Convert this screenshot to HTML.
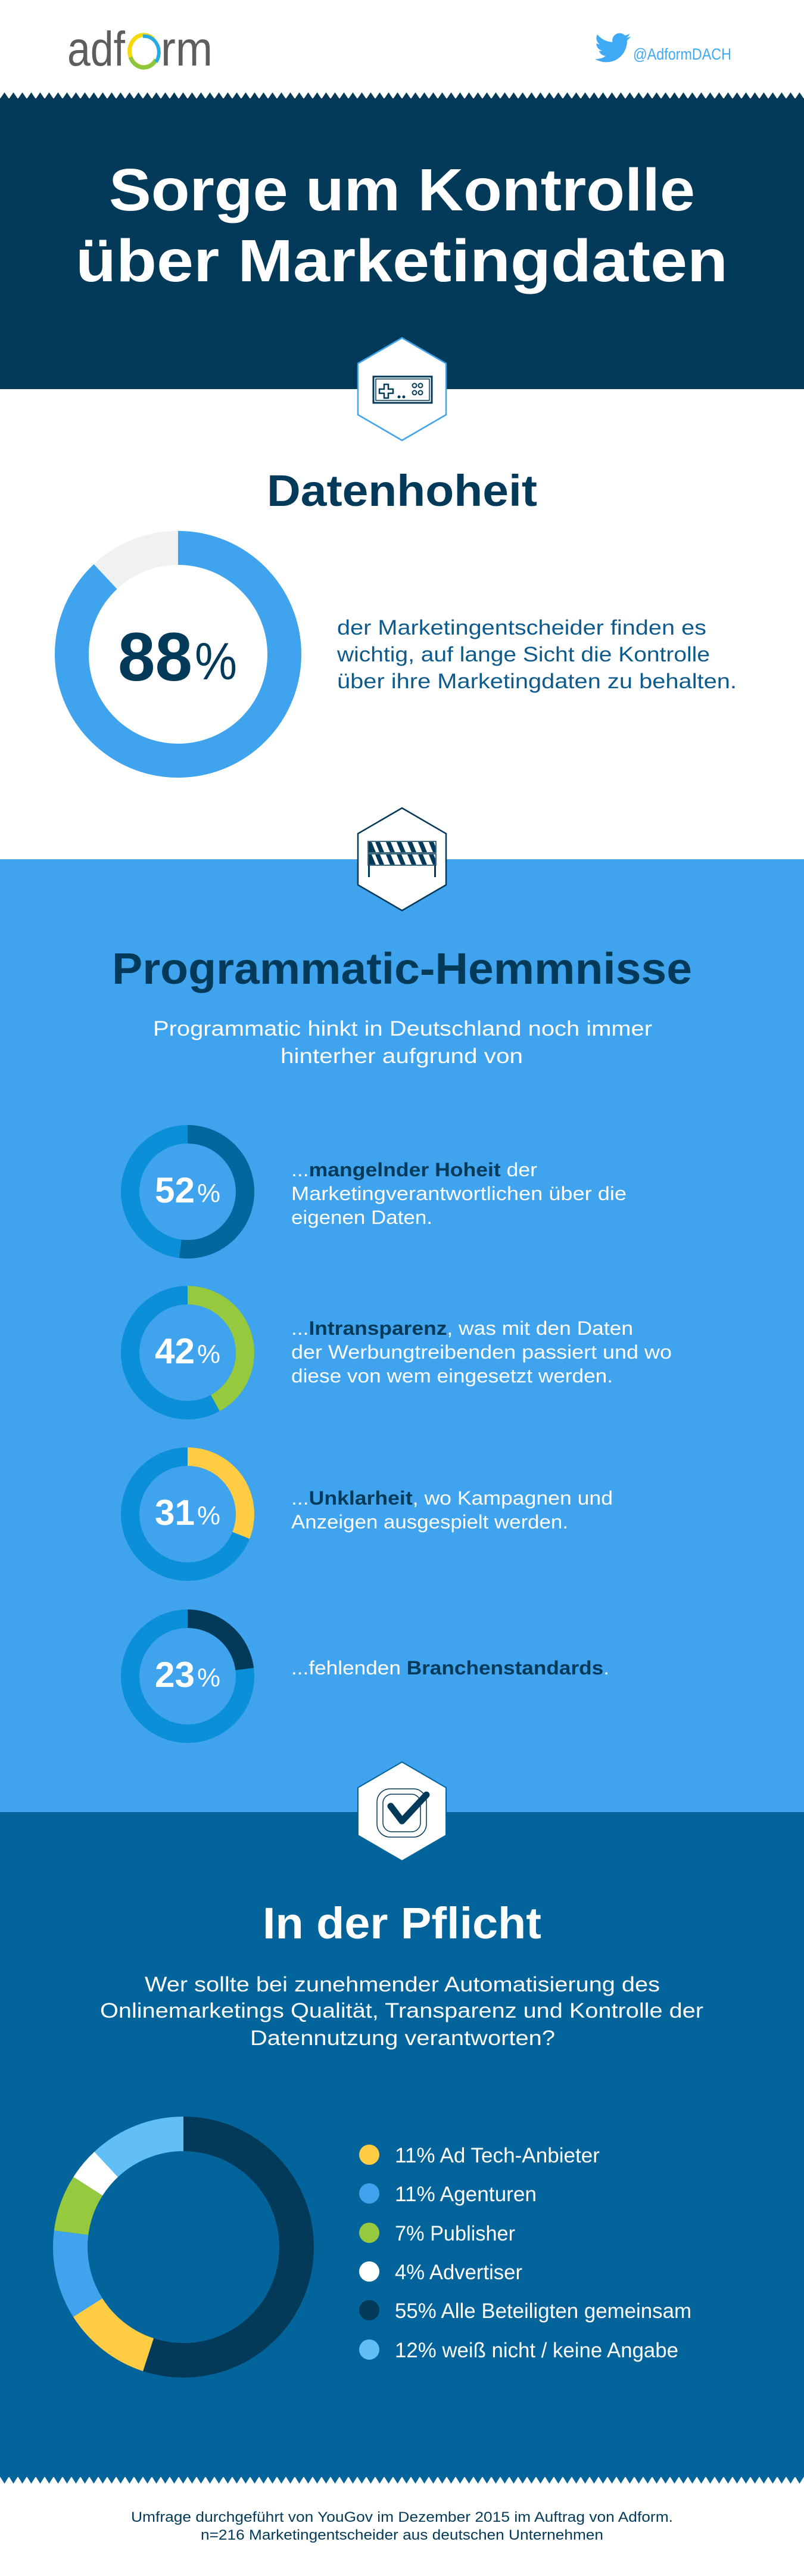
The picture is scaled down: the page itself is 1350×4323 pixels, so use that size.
<!DOCTYPE html>
<html><head><meta charset="utf-8"><style>html,body{margin:0;padding:0;background:#fff}svg{display:block}</style></head>
<body>
<svg width="1350" height="4323" viewBox="0 0 1350 4323" xmlns="http://www.w3.org/2000/svg" font-family="'Liberation Sans', sans-serif">
<defs>
<pattern id="zt" x="0" y="155" width="15" height="11" patternUnits="userSpaceOnUse"><polygon points="0,11 7.5,0 15,11" fill="#033a59"/></pattern>
<pattern id="zb" x="0" y="4156" width="15" height="12" patternUnits="userSpaceOnUse"><polygon points="0,0 7.5,12 15,0" fill="#02649a"/></pattern>
</defs>
<rect width="1350" height="4323" fill="#fff"/>
<!-- logo -->
<text x="113" y="110" font-size="82" fill="#5d5d5d" textLength="97" lengthAdjust="spacingAndGlyphs">adf</text>
<text x="270" y="110" font-size="82" fill="#5d5d5d" textLength="87" lengthAdjust="spacingAndGlyphs">rm</text>
<path d="M258,66 A24,27 0 1 0 262,100" fill="none" stroke="#f5d90a" stroke-width="7"/>
<path d="M219,96 A24,27 0 0 0 262,100" fill="none" stroke="#8cc63f" stroke-width="7"/>
<path d="M240,61 A24,27 0 0 1 262,104" fill="none" stroke="#29abe2" stroke-width="6"/>
<!-- twitter -->
<path transform="translate(999,50) scale(2.5)" fill="#3fa9f5" d="M23.953 4.57a10 10 0 01-2.825.775 4.958 4.958 0 002.163-2.723c-.951.555-2.005.959-3.127 1.184a4.92 4.92 0 00-8.384 4.482C7.69 8.095 4.067 6.13 1.64 3.162a4.822 4.822 0 00-.666 2.475c0 1.71.87 3.213 2.188 4.096a4.904 4.904 0 01-2.228-.616v.06a4.923 4.923 0 003.946 4.827 4.996 4.996 0 01-2.212.085 4.936 4.936 0 004.604 3.417 9.867 9.867 0 01-6.102 2.105c-.39 0-.779-.023-1.17-.067a13.995 13.995 0 007.557 2.209c9.053 0 13.998-7.496 13.998-13.985 0-.21 0-.42-.015-.63A9.935 9.935 0 0024 4.59z"/>
<text x="1063" y="100" font-size="27" fill="#3fa9f5" textLength="165" lengthAdjust="spacingAndGlyphs">@AdformDACH</text>
<!-- dark header -->
<rect x="0" y="155" width="1350" height="11" fill="url(#zt)"/>
<rect x="0" y="165" width="1350" height="488" fill="#033a59"/>
<text x="183" y="353" font-size="100" font-weight="bold" fill="#fff" textLength="984" lengthAdjust="spacingAndGlyphs">Sorge um Kontrolle</text>
<text x="127" y="472" font-size="100" font-weight="bold" fill="#fff" textLength="1095" lengthAdjust="spacingAndGlyphs">über Marketingdaten</text>
<!-- hex1 -->
<polygon points="675,567 749,610 749,696 675,739 601,696 601,610" fill="#fff" stroke="#3fa3ee" stroke-width="2.5"/>
<rect x="627" y="632" width="98" height="44" fill="none" stroke="#033a59" stroke-width="3"/>
<rect x="631" y="636" width="90" height="36" fill="none" stroke="#033a59" stroke-width="1.5"/>
<path d="M645,645 h7 v8 h8 v7 h-8 v8 h-7 v-8 h-8 v-7 h8z" fill="none" stroke="#033a59" stroke-width="2.5"/>
<circle cx="670" cy="666" r="2.5" fill="#033a59"/><circle cx="678" cy="666" r="2.5" fill="#033a59"/>
<g fill="none" stroke="#033a59" stroke-width="2"><circle cx="696" cy="647" r="3.5"/><circle cx="706" cy="647" r="3.5"/><circle cx="696" cy="659" r="3.5"/><circle cx="706" cy="659" r="3.5"/></g>
<!-- Datenhoheit -->
<text x="448" y="849" font-size="74" font-weight="bold" fill="#033a59" textLength="454" lengthAdjust="spacingAndGlyphs">Datenhoheit</text>
<circle cx="299" cy="1098" r="178.5" fill="none" stroke="#f0f1f1" stroke-width="57"/>
<circle cx="299" cy="1098" r="178.5" fill="none" stroke="#3fa3ee" stroke-width="57" stroke-dasharray="986.9 2000" transform="rotate(-90 299 1098)"/>
<text x="198" y="1142" font-size="115" font-weight="bold" fill="#033a59" textLength="125" lengthAdjust="spacingAndGlyphs">88</text>
<text x="327" y="1140" font-size="88" fill="#033a59" textLength="71" lengthAdjust="spacingAndGlyphs">%</text>
<g font-size="35" fill="#0d5a8c">
<text x="566" y="1065" textLength="620" lengthAdjust="spacingAndGlyphs">der Marketingentscheider finden es</text>
<text x="566" y="1110" textLength="626" lengthAdjust="spacingAndGlyphs">wichtig, auf lange Sicht die Kontrolle</text>
<text x="566" y="1155" textLength="671" lengthAdjust="spacingAndGlyphs">über ihre Marketingdaten zu behalten.</text>
</g>
<!-- light blue section -->
<rect x="0" y="1442" width="1350" height="1599" fill="#3fa3ee"/>
<polygon points="675,1356 749,1399 749,1485 675,1528 601,1485 601,1399" fill="#fff" stroke="#033a59" stroke-width="2.5"/>
<g>
<rect x="618" y="1412" width="114" height="19" fill="#fff" stroke="#033a59" stroke-width="1.5"/>
<rect x="618" y="1433" width="114" height="19" fill="#fff" stroke="#033a59" stroke-width="1.5"/>
<g fill="#033a59">
<polygon points="619,1413 624,1413 631,1430 619,1430"/><polygon points="630,1413 638,1413 645,1430 637,1430"/><polygon points="648,1413 656,1413 663,1430 655,1430"/><polygon points="666,1413 674,1413 681,1430 673,1430"/><polygon points="684,1413 692,1413 699,1430 691,1430"/><polygon points="702,1413 710,1413 717,1430 709,1430"/><polygon points="720,1413 728,1413 731,1420 731,1430 727,1430"/>
<polygon points="619,1434 624,1434 631,1451 619,1451"/><polygon points="630,1434 638,1434 645,1451 637,1451"/><polygon points="648,1434 656,1434 663,1451 655,1451"/><polygon points="666,1434 674,1434 681,1451 673,1451"/><polygon points="684,1434 692,1434 699,1451 691,1451"/><polygon points="702,1434 710,1434 717,1451 709,1451"/><polygon points="720,1434 728,1434 731,1441 731,1451 727,1451"/>
<rect x="618" y="1452" width="3" height="20"/><rect x="729" y="1452" width="3" height="20"/>
</g></g>
<text x="188" y="1651" font-size="74" font-weight="bold" fill="#033a59" textLength="974" lengthAdjust="spacingAndGlyphs">Programmatic-Hemmnisse</text>
<g font-size="35" fill="#fff">
<text x="257" y="1738" textLength="838" lengthAdjust="spacingAndGlyphs">Programmatic hinkt in Deutschland noch immer</text>
<text x="471" y="1784" textLength="407" lengthAdjust="spacingAndGlyphs">hinterher aufgrund von</text>
</g>
<!-- small donuts: r=96.5, C=606.3 -->
<g fill="none" stroke-width="31">
<circle cx="315" cy="2000" r="96.5" stroke="#0a8fd8"/>
<circle cx="315" cy="2000" r="96.5" stroke="#02679c" stroke-dasharray="315.3 1000" transform="rotate(-90 315 2000)"/>
<circle cx="315" cy="2270" r="96.5" stroke="#0a8fd8"/>
<circle cx="315" cy="2270" r="96.5" stroke="#96c93d" stroke-dasharray="254.6 1000" transform="rotate(-90 315 2270)"/>
<circle cx="315" cy="2541" r="96.5" stroke="#0a8fd8"/>
<circle cx="315" cy="2541" r="96.5" stroke="#ffcc44" stroke-dasharray="188 1000" transform="rotate(-90 315 2541)"/>
<circle cx="315" cy="2813" r="96.5" stroke="#0a8fd8"/>
<circle cx="315" cy="2813" r="96.5" stroke="#033a59" stroke-dasharray="139.4 1000" transform="rotate(-90 315 2813)"/>
</g>
<g fill="#fff">
<text x="260" y="2018" font-size="60" font-weight="bold" textLength="67" lengthAdjust="spacingAndGlyphs">52</text><text x="331" y="2017" font-size="44" textLength="39" lengthAdjust="spacingAndGlyphs">%</text>
<text x="260" y="2288" font-size="60" font-weight="bold" textLength="67" lengthAdjust="spacingAndGlyphs">42</text><text x="331" y="2287" font-size="44" textLength="39" lengthAdjust="spacingAndGlyphs">%</text>
<text x="260" y="2559" font-size="60" font-weight="bold" textLength="67" lengthAdjust="spacingAndGlyphs">31</text><text x="331" y="2558" font-size="44" textLength="39" lengthAdjust="spacingAndGlyphs">%</text>
<text x="260" y="2831" font-size="60" font-weight="bold" textLength="67" lengthAdjust="spacingAndGlyphs">23</text><text x="331" y="2830" font-size="44" textLength="39" lengthAdjust="spacingAndGlyphs">%</text>
</g>
<g font-size="32" fill="#fff">
<text x="489" y="1974" textLength="413" lengthAdjust="spacingAndGlyphs">...<tspan font-weight="bold" fill="#033a59">mangelnder Hoheit</tspan> der</text>
<text x="489" y="2014" textLength="563" lengthAdjust="spacingAndGlyphs">Marketingverantwortlichen über die</text>
<text x="489" y="2054" textLength="237" lengthAdjust="spacingAndGlyphs">eigenen Daten.</text>
<text x="489" y="2240" textLength="574" lengthAdjust="spacingAndGlyphs">...<tspan font-weight="bold" fill="#033a59">Intransparenz</tspan>, was mit den Daten</text>
<text x="489" y="2280" textLength="639" lengthAdjust="spacingAndGlyphs">der Werbungtreibenden passiert und wo</text>
<text x="489" y="2320" textLength="540" lengthAdjust="spacingAndGlyphs">diese von wem eingesetzt werden.</text>
<text x="489" y="2525" textLength="540" lengthAdjust="spacingAndGlyphs">...<tspan font-weight="bold" fill="#033a59">Unklarheit</tspan>, wo Kampagnen und</text>
<text x="489" y="2565" textLength="465" lengthAdjust="spacingAndGlyphs">Anzeigen ausgespielt werden.</text>
<text x="489" y="2810" textLength="534" lengthAdjust="spacingAndGlyphs">...fehlenden <tspan font-weight="bold" fill="#033a59">Branchenstandards</tspan>.</text>
</g>
<!-- Pflicht section -->
<rect x="0" y="3041" width="1350" height="1116" fill="#02649a"/>
<rect x="0" y="4156" width="1350" height="12" fill="url(#zb)"/>
<polygon points="675,2957 749,3000 749,3080 675,3123 601,3080 601,3000" fill="#fff" stroke="#02649a" stroke-width="2"/>
<rect x="633" y="3002" width="83" height="81" rx="22" fill="none" stroke="#033a59" stroke-width="1.5"/>
<rect x="643" y="3011" width="63" height="63" rx="15" fill="none" stroke="#033a59" stroke-width="1.5"/>
<polyline points="656,3031 675,3056 716,3012" fill="none" stroke="#033a59" stroke-width="11" stroke-linecap="round" stroke-linejoin="round"/>
<text x="441" y="3253" font-size="74" font-weight="bold" fill="#fff" textLength="468" lengthAdjust="spacingAndGlyphs">In der Pflicht</text>
<g font-size="35" fill="#fff">
<text x="243" y="3342" textLength="865" lengthAdjust="spacingAndGlyphs">Wer sollte bei zunehmender Automatisierung des</text>
<text x="168" y="3386" textLength="1013" lengthAdjust="spacingAndGlyphs">Onlinemarketings Qualität, Transparenz und Kontrolle der</text>
<text x="420" y="3432" textLength="512" lengthAdjust="spacingAndGlyphs">Datennutzung verantworten?</text>
</g>
<!-- big donut r=190, C=1193.8 -->
<g fill="none" stroke-width="58" transform="rotate(-90 308 3771)">
<circle cx="308" cy="3771" r="190" stroke="#033a59" stroke-dasharray="656.6 2000"/>
<circle cx="308" cy="3771" r="190" stroke="#ffcc44" stroke-dasharray="0 656.6 131.3 2000"/>
<circle cx="308" cy="3771" r="190" stroke="#3fa3ee" stroke-dasharray="0 787.9 131.3 2000"/>
<circle cx="308" cy="3771" r="190" stroke="#96c93d" stroke-dasharray="0 919.2 83.6 2000"/>
<circle cx="308" cy="3771" r="190" stroke="#ffffff" stroke-dasharray="0 1002.8 47.8 2000"/>
<circle cx="308" cy="3771" r="190" stroke="#62bff5" stroke-dasharray="0 1050.6 143.2 2000"/>
</g>
<circle cx="620" cy="3616" r="17" fill="#ffcc44"/>
<circle cx="620" cy="3681" r="17" fill="#3fa3ee"/>
<circle cx="620" cy="3747" r="17" fill="#96c93d"/>
<circle cx="620" cy="3812" r="17" fill="#ffffff"/>
<circle cx="620" cy="3877" r="17" fill="#033a59"/>
<circle cx="620" cy="3943" r="17" fill="#62bff5"/>
<g font-size="35" fill="#fff">
<text x="663" y="3629" textLength="344" lengthAdjust="spacingAndGlyphs">11% Ad Tech-Anbieter</text>
<text x="663" y="3694" textLength="238" lengthAdjust="spacingAndGlyphs">11% Agenturen</text>
<text x="663" y="3760" textLength="202" lengthAdjust="spacingAndGlyphs">7% Publisher</text>
<text x="663" y="3825" textLength="214" lengthAdjust="spacingAndGlyphs">4% Advertiser</text>
<text x="663" y="3890" textLength="498" lengthAdjust="spacingAndGlyphs">55% Alle Beteiligten gemeinsam</text>
<text x="663" y="3956" textLength="476" lengthAdjust="spacingAndGlyphs">12% weiß nicht / keine Angabe</text>
</g>
<g font-size="24" fill="#033a59">
<text x="220" y="4232" textLength="910" lengthAdjust="spacingAndGlyphs">Umfrage durchgeführt von YouGov im Dezember 2015 im Auftrag von Adform.</text>
<text x="337" y="4262" textLength="676" lengthAdjust="spacingAndGlyphs">n=216 Marketingentscheider aus deutschen Unternehmen</text>
</g>
</svg>
</body></html>
